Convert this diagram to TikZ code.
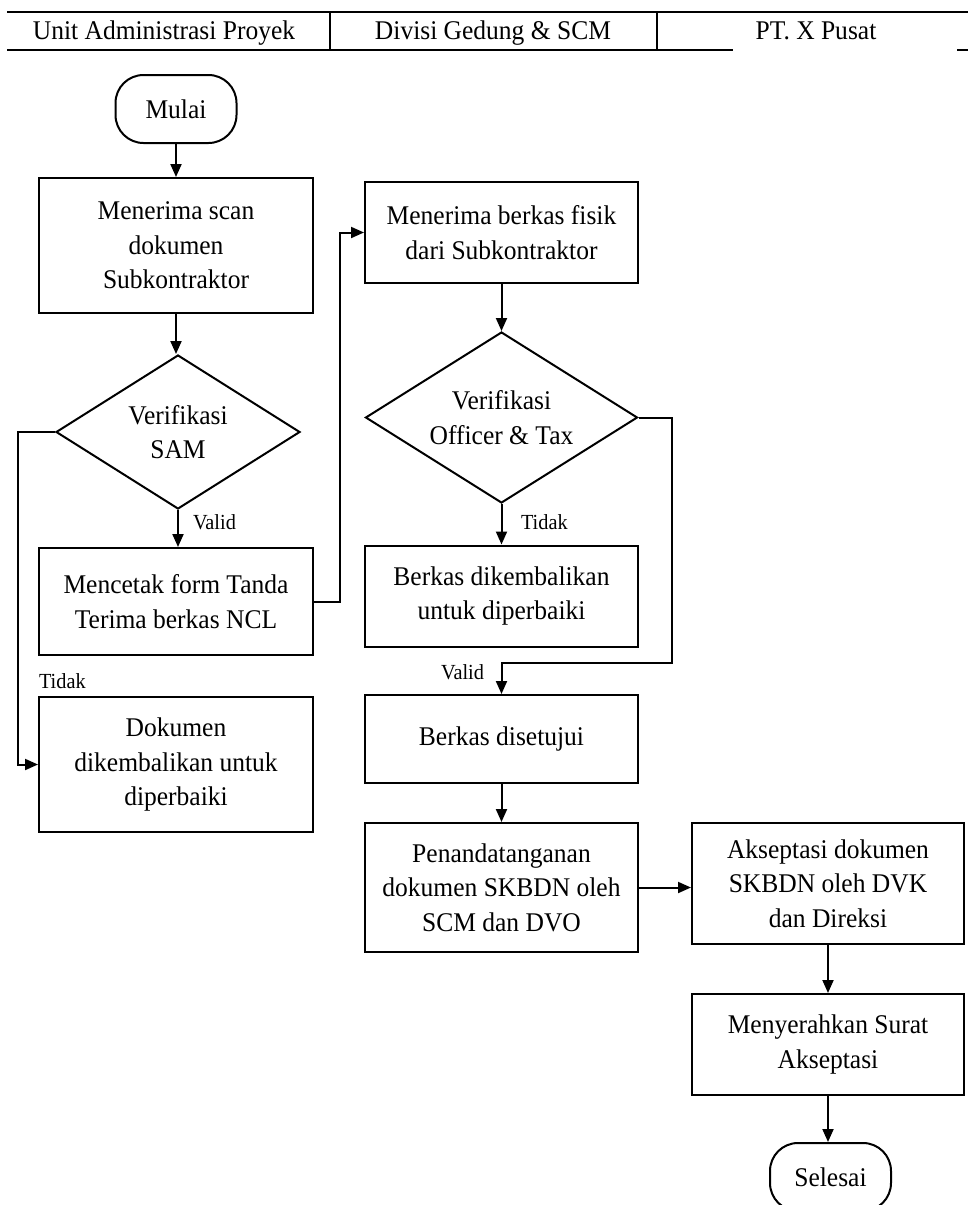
\documentclass[tikz,border=0pt]{standalone}
\usepackage{fontspec}
\setmainfont[FakeStretch=0.945]{Liberation Serif}
\usetikzlibrary{shapes.geometric,arrows.meta}
\begin{document}
\begin{tikzpicture}[x=1pt,y=-1pt,line width=2pt,
  txt/.style={font=\fontsize{27}{34.5}\selectfont},
  box/.style={txt,draw,rectangle,inner sep=0pt,align=center},
  term/.style={txt,draw,rectangle,rounded corners=28pt,inner sep=0pt,minimum width=121pt,minimum height=68pt},
  dia/.style={txt,draw,diamond,inner sep=0pt,align=center},
  lbl/.style={font=\fontsize{21.5}{24}\selectfont,inner sep=0pt},
  hdr/.style={txt,inner sep=0pt,anchor=base},
  arr/.style={-{Triangle[length=13pt,width=11pt]}}]
\useasboundingbox (0,0) rectangle (968,1205);
\clip (0,0) rectangle (968,1205);
% header
\draw (7,12) -- (968,12);
\draw (7,50) -- (733,50);
\draw (957,50) -- (968,50);
\draw (330,12) -- (330,50);
\draw (657,12) -- (657,50);
\node[hdr] (h1) at (164,39.5) {Unit Administrasi Proyek};
\node[hdr] (h2) at (493,39.5) {Divisi Gedung \& SCM};
\node[hdr] (h3) at (816,39.5) {PT. X Pusat};
% column 1
\node[term] (start) at (176,109) {Mulai};
\node[box,minimum width=274pt,minimum height=135pt] (b1) at (176,245.5) {Menerima scan\\dokumen\\Subkontraktor};
\node[dia,minimum width=244pt,minimum height=154pt,aspect=1.58] (d1) at (178,432) {Verifikasi\\SAM};
\node[box,minimum width=274pt,minimum height=107pt] (b2) at (176,601.5) {Mencetak form Tanda\\Terima berkas NCL};
\node[box,minimum width=274pt,minimum height=135pt] (b3) at (176,764.5) {Dokumen\\dikembalikan untuk\\diperbaiki};
% column 2
\node[box,minimum width=273pt,minimum height=101pt] (c1) at (501.5,232.5) {Menerima berkas fisik\\dari Subkontraktor};
\node[dia,minimum width=272pt,minimum height=171pt,aspect=1.59] (d2) at (501.5,417.5) {Verifikasi\\Officer \& Tax};
\node[box,minimum width=273pt,minimum height=101pt] (c2) at (501.5,596) {Berkas dikembalikan\\untuk diperbaiki};
\node[box,minimum width=273pt,minimum height=88pt] (c3) at (501.5,739) {Berkas disetujui};
\node[box,minimum width=273pt,minimum height=129pt] (c4) at (501.5,887.5) {Penandatanganan\\dokumen SKBDN oleh\\SCM dan DVO};
% column 3
\node[box,minimum width=272pt,minimum height=121pt] (e1) at (828,883.5) {Akseptasi dokumen\\SKBDN oleh DVK\\dan Direksi};
\node[box,minimum width=272pt,minimum height=101pt] (e2) at (828,1044.5) {Menyerahkan Surat\\Akseptasi};
\node[term] (end) at (830.5,1177) {Selesai};
% connectors
\draw[arr] (start) -- (start |- b1.north);
\draw[arr] (b1) -- (b1 |- d1.north);
\draw[arr] (d1) -- (d1 |- b2.north);
\node[lbl,anchor=west] (l1) at (192,522) {Valid};
\draw[arr] (d1.west) -- ++(-37,0) |- (b3.west);
\node[lbl,anchor=west] (l2) at (38,681) {Tidak};
\draw[arr] (b2.east) -- ++(26,0) |- (c1.west);
\draw[arr] (c1) -- (d2);
\draw[arr] (d2) -- (c2);
\node[lbl,anchor=west] (l3) at (520,522) {Tidak};
\draw[arr] (d2.east) -- ++(33,0) -- ++(0,245.5) -| (c3.north);
\node[lbl,anchor=east] (l4) at (485,672) {Valid};
\draw[arr] (c3) -- (c4);
\draw[arr] (c4.east) -- (c4.east -| e1.west);
\draw[arr] (e1) -- (e2);
\draw[arr] (e2) -- (e2 |- end.north);
\end{tikzpicture}
\end{document}
